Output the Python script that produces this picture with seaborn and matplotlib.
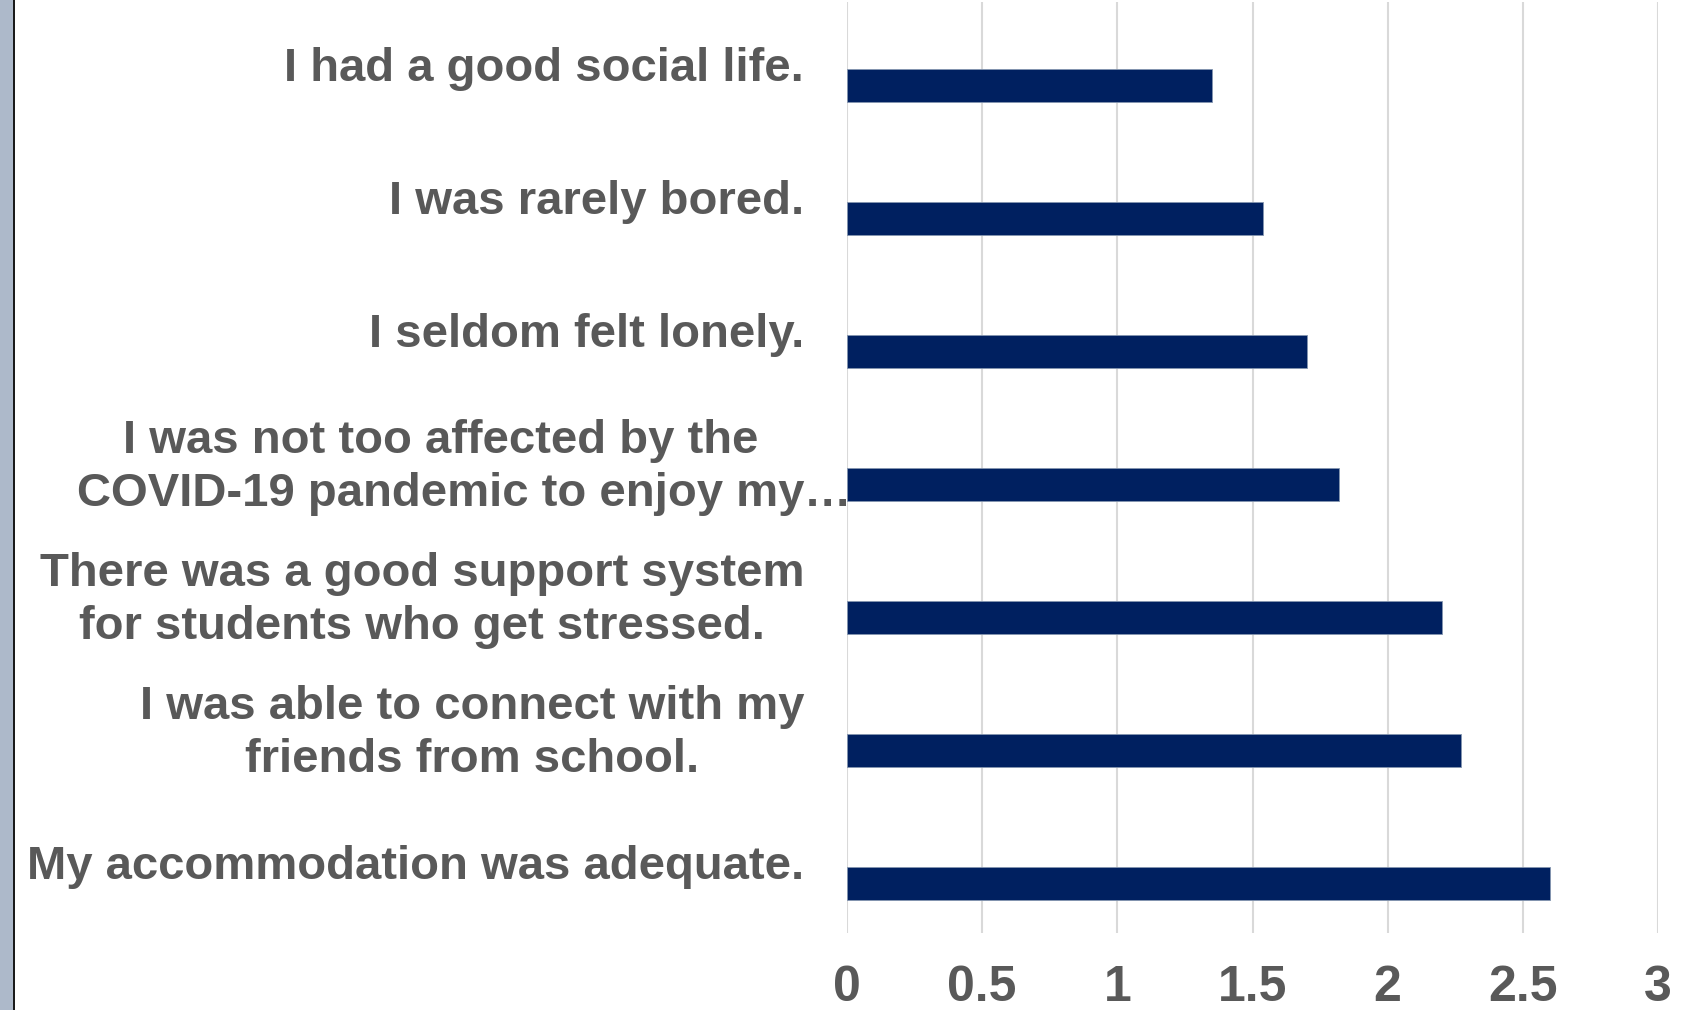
import matplotlib
matplotlib.use("Agg")
import matplotlib.pyplot as plt
import seaborn as sns
import pandas as pd
from matplotlib import font_manager
from matplotlib.patches import Rectangle
from matplotlib.transforms import blended_transform_factory

# ---- data ----
categories = [
    "I had a good social life.",
    "I was rarely bored.",
    "I seldom felt lonely.",
    "I was not too affected by the COVID-19 pandemic to enjoy my…",
    "There was a good support system for students who get stressed.",
    "I was able to connect with my friends from school.",
    "My accommodation was adequate.",
]
label_lines = [
    "I had a good social life.",
    "I was rarely bored.",
    "I seldom felt lonely.",
    "I was not too affected by the\nCOVID-19 pandemic to enjoy my",
    "There was a good support system\nfor students who get stressed.",
    "I was able to connect with my\nfriends from school.",
    "My accommodation was adequate.",
]
truncated = [False, False, False, True, False, False, False]
values = [1.35, 1.54, 1.70, 1.82, 2.20, 2.27, 2.60]
series_names = ["Blank", "Mean"]
x_ticks = [0, 0.5, 1, 1.5, 2, 2.5, 3]
x_tick_labels = ["0", "0.5", "1", "1.5", "2", "2.5", "3"]

# ---- style ----
sns.set_theme(style="white")
names = {f.name for f in font_manager.fontManager.ttflist}
label_font = "Liberation Sans" if "Liberation Sans" in names else "DejaVu Sans"
tick_font = "Liberation Sans Narrow" if "Liberation Sans Narrow" in names else label_font
plt.rcParams["font.family"] = [label_font, "DejaVu Sans"]

TEXT = "#595959"
BAR = "#002060"

W, H = 1685, 1010
fig = plt.figure(figsize=(W / 100, H / 100), dpi=100)
fig.patch.set_facecolor("white")
ax_top, ax_bottom = 2, 933
ax = fig.add_axes([847 / W, (H - ax_bottom) / H, 811 / W, (ax_bottom - ax_top) / H])

df = pd.DataFrame({"category": categories, "value": values, "series": "Mean"})
sns.barplot(
    data=df, y="category", x="value", hue="series", hue_order=series_names,
    order=categories, palette={"Blank": BAR, "Mean": BAR}, width=0.5,
    dodge=True, orient="h", ax=ax, legend=False, saturation=1,
    linewidth=0.6, edgecolor="#8496B0", errorbar=None,
)

ax.set_xlim(0, 3)
ax.set_xticks(x_ticks)
ax.set_xticklabels(x_tick_labels, fontsize=36, fontweight="bold", color=TEXT,
                   family=[tick_font, "DejaVu Sans"])
ax.tick_params(axis="x", length=0, pad=23)
ax.tick_params(axis="y", left=False, labelleft=False)
ax.set_xlabel("")
ax.set_ylabel("")
ax.grid(axis="x", color="#D9D9D9", linewidth=1.5)
ax.grid(axis="y", visible=False)
ax.set_axisbelow(True)
for s in ax.spines.values():
    s.set_visible(False)

trans = blended_transform_factory(ax.transAxes, ax.transData)
for i, (lab, tr) in enumerate(zip(label_lines, truncated)):
    t = ax.text(-0.053, i, lab, transform=trans, ha="right", va="center",
                multialignment="center", fontsize=34, fontweight="bold",
                color=TEXT, linespacing=1.27)
    if tr:
        ax.annotate("…", xy=(1, 0), xycoords=t, ha="left", va="bottom",
                    fontsize=34, fontweight="bold", color=TEXT,
                    annotation_clip=False)

# left decorative strip
fig.add_artist(Rectangle((0, 0), 13 / W, 1, transform=fig.transFigure,
                         facecolor="#ADB9CA", edgecolor="none"))
fig.add_artist(Rectangle((13 / W, 0), 2 / W, 1, transform=fig.transFigure,
                         facecolor="#1a1a1a", edgecolor="none"))

fig.savefig("out.png", dpi=100)
